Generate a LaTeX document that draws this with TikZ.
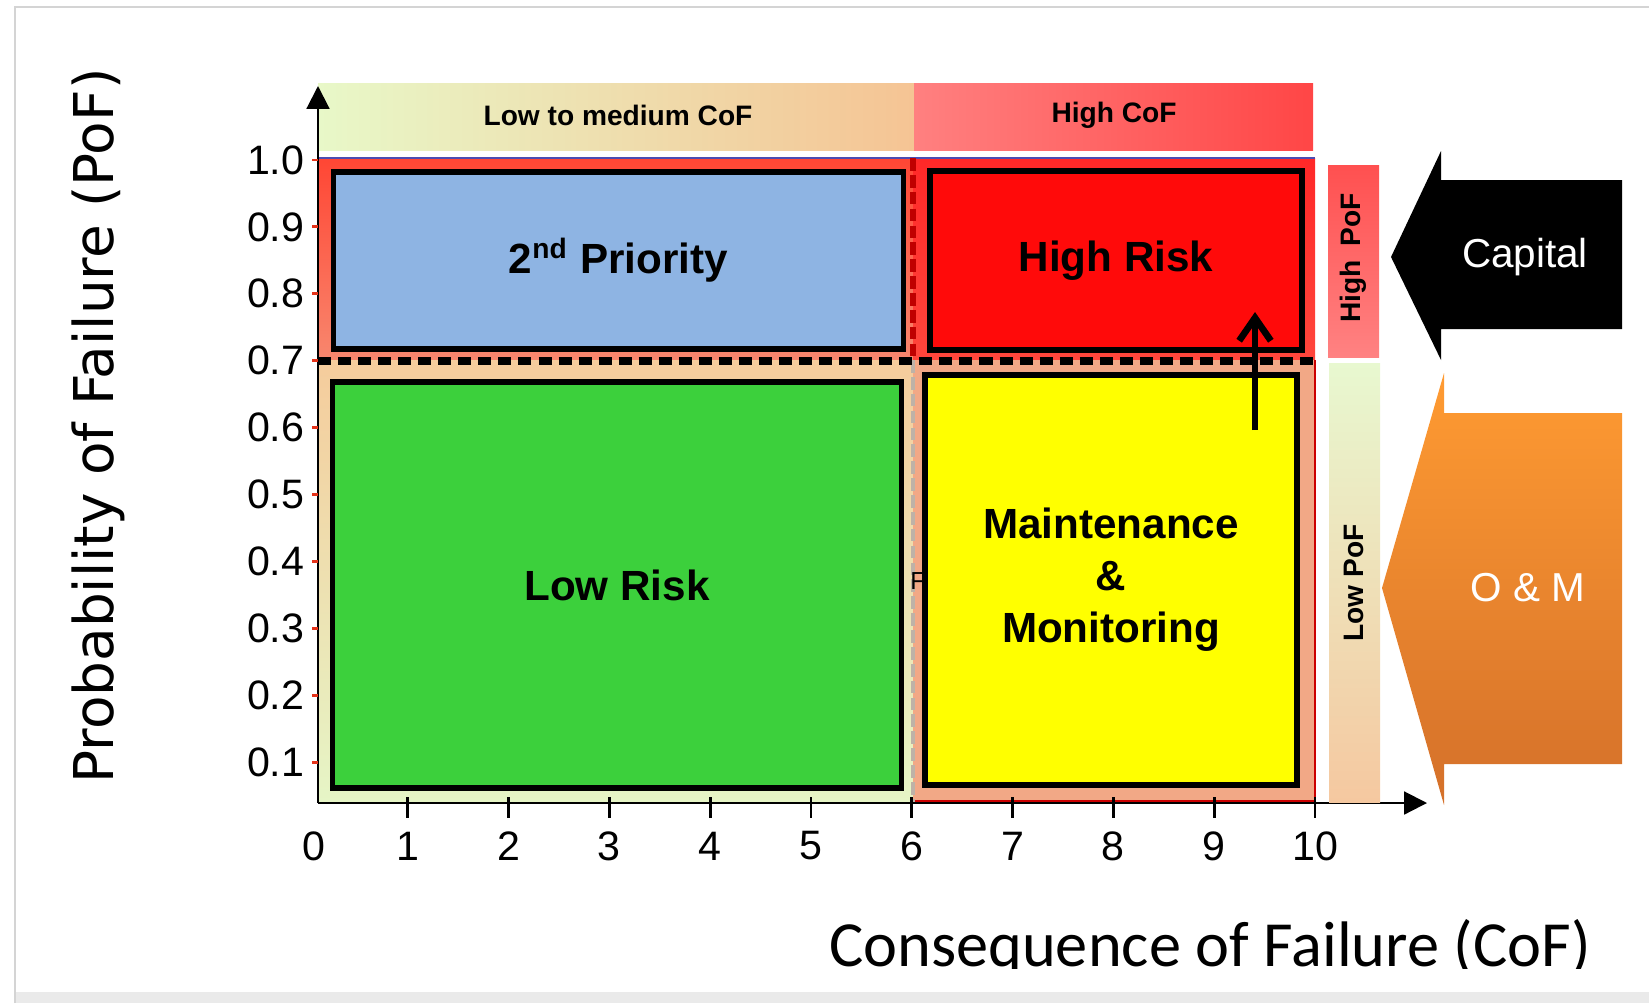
\documentclass[tikz,border=0pt]{standalone}
\usepackage{fontspec}
\setmainfont{Liberation Sans}
\newfontfamily\dejavu{DejaVu Sans}
\newfontfamily\carlito{Carlito}
\usepackage{tikz}
\usetikzlibrary{arrows.meta}

\definecolor{zoneblue}{HTML}{8EB4E3}
\definecolor{zonegreen}{HTML}{3CD03C}
\definecolor{zonered}{HTML}{FF0A0A}
\definecolor{zoneyellow}{HTML}{FFFF00}
\definecolor{framegray}{HTML}{D4D4D4}

\begin{document}
\begin{tikzpicture}[x=0.01cm, y=-0.01cm,
    zone/.style={draw=black, line width=1.5pt, align=center, inner sep=0pt,
      font=\bfseries\fontsize{12}{14.8}\selectfont},
    band/.style={font=\bfseries\fontsize{8}{9.6}\selectfont},
    ticklabel/.style={font=\fontsize{11.7}{14}\selectfont},
    bigarrow/.style={font=\fontsize{11.5}{14}\selectfont, text=white}]
  \useasboundingbox (0,0) rectangle (1649,1003);

  % frame of the screenshot
  \fill[framegray!50] (15,992) rectangle (1649,1003);
  \draw[framegray, line width=0.8pt] (15,1003) -- (15,7) -- (1649,7);

  % CoF bands on top
  \shade[left color={rgb,255:red,232;green,248;blue,200}, right color={rgb,255:red,245;green,196;blue,148}]
    (318,83) rectangle (914,150);
  \shade[left color={rgb,255:red,255;green,128;blue,128}, right color={rgb,255:red,255;green,70;blue,70}]
    (914,83) rectangle (1313,150);
  \node[band] (lowcof) at (618,115) {Low to medium CoF};
  \node[band] (highcof) at (1114,115) {High CoF};

  % zones behind the boxes
  \shade[top color={rgb,255:red,255;green,70;blue,52}, bottom color={rgb,255:red,248;green,135;blue,110}]
    (318,158) rectangle (913,360);
  \shade[top color={rgb,255:red,255;green,40;blue,40}, bottom color={rgb,255:red,255;green,70;blue,60}]
    (913,158) rectangle (1315,360);
  \shade[top color={rgb,255:red,245;green,204;blue,156}, bottom color={rgb,255:red,230;green,245;blue,198}]
    (318,360) rectangle (913,803);
  \fill[fill={rgb,255:red,242;green,168;blue,134}] (913,360) rectangle (1315,803);
  \draw[red!80!black, line width=0.8pt] (913,801) -- (1315,801) -- (1315,360);
  \draw[blue!40!gray, line width=0.4pt] (318,158) -- (1315,158);
  \draw[red!75!black, line width=1.5pt, dash pattern=on 3.6pt off 1.2pt] (913,158) -- (913,360);
  \draw[gray!70!brown!60, line width=1.1pt, dash pattern=on 3.6pt off 1.2pt] (913,360) -- (913,803);
  \node[font=\fontsize{7}{8}\selectfont] (stray) at (918,581) {F};

  % risk boxes
  \node[zone, fill=zoneblue, minimum width=5.69cm, minimum height=1.77cm] (second) at (618.5,260.5)
    {2\textsuperscript{nd} Priority};
  \node[zone, fill=zonered, minimum width=3.72cm, minimum height=1.79cm] (highrisk) at (1116,260.5)
    {High Risk};
  \node[zone, fill=zonegreen, minimum width=5.68cm, minimum height=4.06cm] (lowrisk) at (617,585)
    {Low Risk};
  \node[zone, fill=zoneyellow, minimum width=3.72cm, minimum height=4.10cm] (maint) at (1111,580)
    {Maintenance\\\&\\Monitoring};

  % PoF threshold
  \coordinate (cutL) at (318,361);
  \coordinate (cutR) at (1318,361);
  \draw[black, line width=2pt, dash pattern=on 3.7pt off 2pt] (cutL) -- (cutR);

  % arrow from maintenance into high risk
  \coordinate (upFrom) at (1255,430);
  \coordinate (upTo) at (1255,312);
  \draw[line width=1.9pt, -{Straight Barb[length=6.5pt,width=9pt]}] (upFrom) -- (upTo);

  % axes
  \coordinate (origin) at (318,803);
  \coordinate (yTop) at (318,86);
  \coordinate (xEnd) at (1427,803);
  \draw[line width=0.6pt, -{Triangle[length=6.5pt,width=6.5pt]}] (origin) -- (yTop);
  \draw[line width=0.6pt, -{Triangle[length=6.5pt,width=6.5pt]}] (origin) -- (xEnd);
  \foreach \k in {1,...,10}
    \draw[line width=0.8pt] ({307+100.8*\k},797) -- ({307+100.8*\k},818);
  \foreach \k in {1,...,10}
    \node[ticklabel] (x\k) at ({307+100.8*\k},846) {\k};
  \node[ticklabel] (x0) at (314,846) {0};
  \foreach \v/\t in {1/0.1,2/0.2,3/0.3,4/0.4,5/0.5,6/0.6,7/0.7,8/0.8,9/0.9,10/1.0} {
    \draw[red!60!brown, line width=0.8pt] (312,{160+(10-\v)*66.9}) -- (318,{160+(10-\v)*66.9});
    \node[ticklabel, anchor=east, inner sep=0pt] (y\v) at (305,{160+(10-\v)*66.9}) {\t};
  }

  % axis titles
  \node[font=\dejavu\fontsize{15.6}{18}\selectfont, rotate=90] (ytitle) at (98,426)
    {Probability of Failure (PoF)};
  \begin{scope}
    \clip (700,880) rectangle (1649,968);
    \node[font=\carlito\fontsize{18.3}{22}\selectfont, anchor=base] (xtitle) at (1210,966)
      {Consequence of Failure (CoF)};
  \end{scope}

  % PoF strips
  \shade[top color={rgb,255:red,255;green,80;blue,80}, bottom color={rgb,255:red,255;green,130;blue,130}]
    (1328,165) rectangle (1379,357);
  \shade[top color={rgb,255:red,232;green,248;blue,208}, bottom color={rgb,255:red,245;green,200;blue,160}]
    (1329,363) rectangle (1380,802);
  \node[band, rotate=90] (highpof) at (1353,258) {High\enspace PoF};
  \node[band, rotate=90] (lowpof) at (1354,583) {Low PoF};

  % budget arrows
  \fill[black] (1391,257) -- (1441,151) -- (1441,180) -- (1622,180) -- (1622,329)
    -- (1441,329) -- (1441,360) -- cycle;
  \node[bigarrow] (capital) at (1525,257) {Capital};
  \shade[top color={rgb,255:red,255;green,155;blue,50}, bottom color={rgb,255:red,212;green,112;blue,42}]
    (1382,588) -- (1444,373) -- (1444,413) -- (1622,413) -- (1622,764)
    -- (1444,764) -- (1444,805) -- cycle;
  \node[bigarrow] (om) at (1528,588) {O \& M};
\end{tikzpicture}
\end{document}
